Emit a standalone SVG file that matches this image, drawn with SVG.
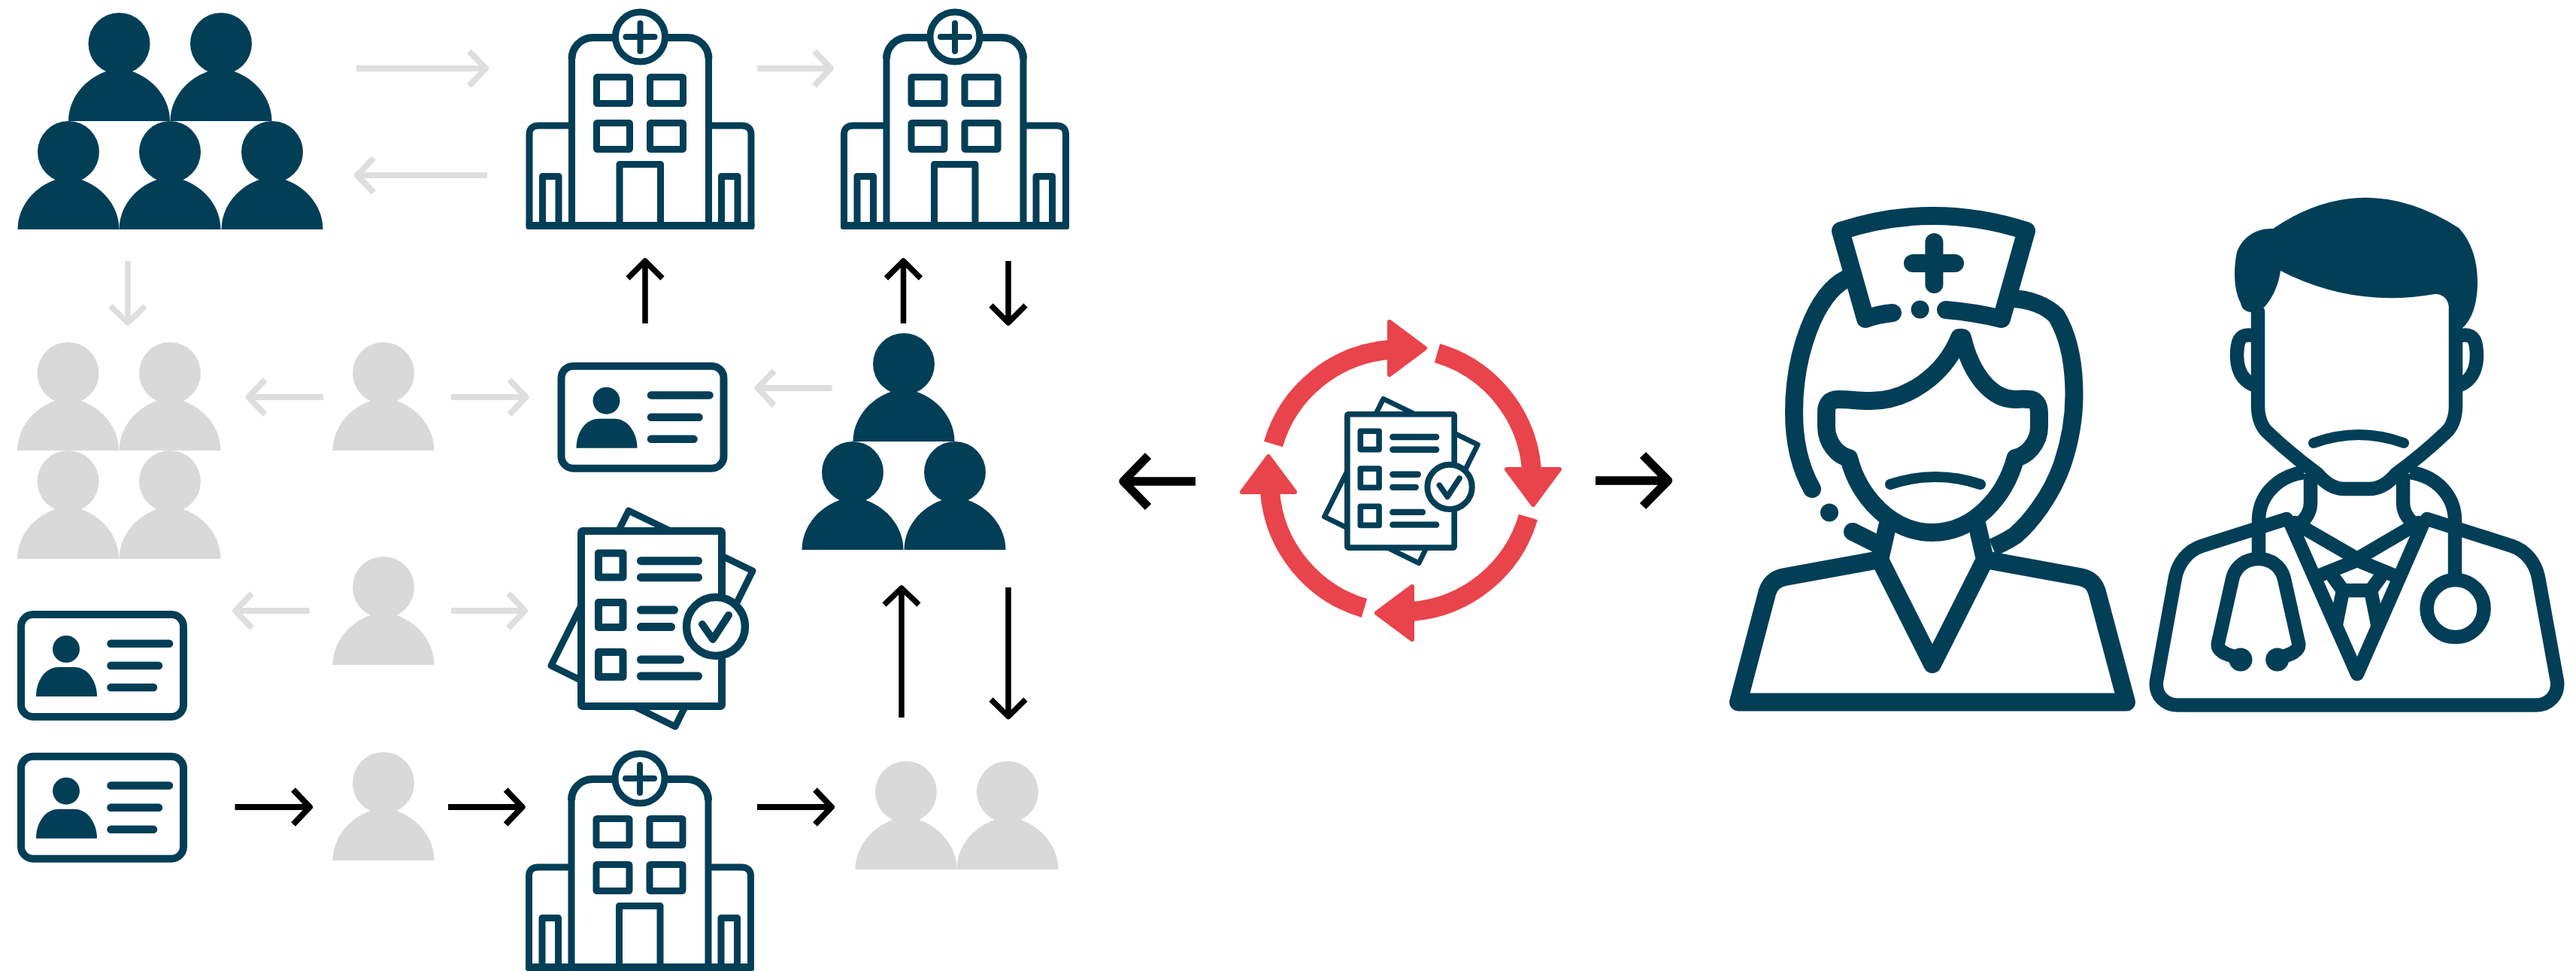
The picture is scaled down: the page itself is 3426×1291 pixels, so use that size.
<svg xmlns="http://www.w3.org/2000/svg" width="3426" height="1291" viewBox="0 0 3426 1291">
<style>
.d{fill:#033e57}
.g{fill:#d9d9d9}
.s{fill:none;stroke:#033e57;stroke-linecap:round;stroke-linejoin:round}
.w{fill:#fff;stroke:#033e57;stroke-linejoin:round}
.ag{fill:none;stroke:#dedede;stroke-width:8;stroke-linejoin:round}
.ak{fill:none;stroke:#000;stroke-width:8;stroke-linejoin:round}
.v{stroke-width:7.5}
.b{stroke-width:11.5}
.r{fill:none;stroke:#e9434b}
.rh{fill:#e9434b;stroke:#e9434b;stroke-width:6;stroke-linejoin:round}
</style>
<defs>
<g id="person"><circle cx="0" cy="-103" r="41"/><path d="M-67.5,0C-67.5,-30 -46,-56 -17.5,-66H17.5C46,-56 67.5,-30 67.5,0Z"/></g>
<g id="hospital">
<g class="s" stroke-width="9">
<path d="M-91,64V289M91,64V289" stroke-linecap="butt"/>
<path d="M-33,39H-63A28,28 0 0 0 -91,67M33,39H63A28,28 0 0 1 91,67" stroke-width="10" stroke-linecap="butt"/>
<path d="M-91,156H-135Q-147.5,156 -147.5,168V289M91,156H135Q147.5,156 147.5,168V289" stroke-linecap="butt"/>
<rect x="-58" y="91.5" width="44" height="35" rx="1"/><rect x="13" y="91.5" width="44" height="35" rx="1"/>
<rect x="-58" y="152.5" width="44" height="35" rx="1"/><rect x="13" y="152.5" width="44" height="35" rx="1"/>
<path d="M-27.5,289V207.5H27V289M-130,289V223.5H-108.5V289M108,289V223.5H129.5V289" stroke-linecap="butt"/>
</g>
<circle class="w" cx="0" cy="38" r="33" stroke-width="9"/>
<path class="s" stroke-width="8" d="M0,20V57M-19,38H19"/>
<rect class="d" x="-152" y="284" width="304" height="10" rx="3"/>
</g>
<g id="doc">
<path class="w" stroke-width="9" d="M836,679L1001,759L898,966L733,885Z"/>
<rect class="w" x="773" y="706" width="187" height="233" rx="2" stroke-width="10"/>
<g class="s" stroke-width="10">
<rect x="796" y="735.5" width="32.5" height="32"/><rect x="796" y="801" width="32.5" height="33"/><rect x="796" y="867" width="32.5" height="33"/>
</g>
<path class="s" stroke-width="11" d="M852.5,745.7H928.5M852.5,767.7H928.5M852.5,811H896.5M852.5,833.5H892.5M852.5,877H904.5M852.5,899H928.5"/>
<circle class="w" cx="952" cy="833" r="39" stroke-width="10.5"/>
<path class="s" stroke-width="10" d="M934,830L948,850L969,818"/>
</g>
<g id="card">
<rect class="s" x="28" y="817" width="216" height="136" rx="16" stroke-width="10"/>
<circle class="d" cx="88" cy="863" r="18"/>
<path class="d" d="M48,926C48,905 60,887 78,887H99C116,887 129,905 129,926Z"/>
<path class="s" stroke-width="10.5" d="M147.5,855.7H225M147.5,885H211M147.5,914H204"/>
</g>
<g id="rarrow">
<path class="r" stroke-width="26" d="M1693.5,590.5A175.5,175.5 0 0 1 1848,465"/>
<path class="rh" d="M1848,428L1895,463L1848,498Z"/>
</g>
</defs>
<rect width="3426" height="1291" fill="#fff"/>

<g id="crowd-top" class="d">
<use href="#person" x="158.5" y="161"/><use href="#person" x="294" y="161"/>
<use href="#person" x="91" y="305"/><use href="#person" x="226" y="305"/><use href="#person" x="362" y="305"/>
</g>
<g id="crowd-grey" class="g">
<use href="#person" x="90.5" y="599"/><use href="#person" x="226" y="599"/>
<use href="#person" x="90.5" y="743"/><use href="#person" x="226" y="743"/>
</g>
<g id="person-grey-1" class="g"><use href="#person" x="510" y="599"/></g>
<g id="person-grey-2" class="g"><use href="#person" x="510" y="884"/></g>
<g id="person-grey-3" class="g"><use href="#person" x="510" y="1144"/></g>
<g id="pair-grey" class="g"><use href="#person" x="1205" y="1156"/><use href="#person" x="1340" y="1156"/></g>
<g id="trio-dark" class="d"><use href="#person" x="1202" y="587"/><use href="#person" x="1134" y="731"/><use href="#person" x="1270" y="731"/></g>

<g id="hospital-1"><use href="#hospital" x="851.5" y="11"/></g>
<g id="hospital-2"><use href="#hospital" x="1270" y="11"/></g>
<g id="hospital-3"><use href="#hospital" x="851" y="997"/></g>

<g id="card-1"><use href="#card" x="718.5" y="-330.3"/></g>
<g id="card-2"><use href="#card"/></g>
<g id="card-3"><use href="#card" y="188.7"/></g>

<g id="document-1"><use href="#doc"/></g>
<g id="document-2"><use href="#doc" transform="translate(1863,639.3) scale(.761) translate(-866.5,-822.3)"/></g>

<g id="cycle">
<use href="#rarrow"/>
<use href="#rarrow" transform="rotate(90 1863 639)"/>
<use href="#rarrow" transform="rotate(180 1863 639)"/>
<use href="#rarrow" transform="rotate(270 1863 639)"/>
</g>

<g id="nurse">
<g class="s" stroke-width="24">
<path d="M2517,416Q2497,418 2481,424L2448,307Q2571,267 2695,307L2662,424Q2625,415 2588,412"/>
<path d="M2572.4,322V378M2544,350H2600"/>
<path d="M2455,371C2415,391 2386,470 2386,548C2386,590 2394,622 2410,650"/>
<path d="M2464,707L2500,725"/>
<path d="M2672,397C2700,397 2722,407 2735,420C2750,445 2758.5,480 2758.5,525C2758.5,560 2752,590 2743,617C2728,660 2700,695 2680,712Q2668,720 2650,728" stroke-linecap="butt"/>
<path d="M2606,449C2585,500 2535,534 2486,533C2470,533 2460,531 2445,531Q2429,531 2429,548V567C2429,590 2445,606 2459,609C2472,660 2515,708 2570,708C2625,708 2667,660 2680.5,609C2695,606 2712,590 2712,567V550Q2712,531 2698,531C2690,530 2685,531 2680,531C2650,531 2622,500 2610,449Z"/>
<path d="M2510,700L2500,744L2570,883L2640,744L2630,700"/>
<path d="M2500,744L2374,767Q2356,770 2350.5,787L2312,933.5H2828L2789,787Q2784,770 2766,767L2640,744"/>
</g>
<circle class="d" cx="2553.6" cy="411.6" r="12"/>
<circle class="d" cx="2433" cy="681.6" r="12"/>
<path class="s" stroke-width="14" d="M2514,644Q2574,624 2634,644"/>
</g>

<g id="doctor">
<g class="s" stroke-width="18.5">
<path d="M3003,414V540C3003,555 3008,568 3016,575C3035,593 3060,614 3082,630C3092,642 3103,650 3118,650H3151C3166,650 3177,642 3187,630C3209,614 3234,593 3253,575C3261,568 3266,555 3266,540V410"/>
<path d="M3000,447C2985,443 2978,447 2976,460C2973,480 2976,505 3000,513M3269,447C3284,443 3291,447 3293,460C3296,480 3293,505 3269,513" stroke-linecap="butt"/>
<path d="M3073,630V668Q3073,684 3060,695M3196,630V668Q3196,684 3209,695" stroke-linecap="butt"/>
<path d="M3064,628C3028,633 3004,660 3004,692V743M3205,628C3241,633 3265,660 3265,692V770" stroke-linecap="butt"/>
<path d="M3041,690L2928,726C2910,732 2897,748 2893,768L2868,906C2866,925 2880,937.5 2896,937.5H3373C3389,937.5 3403,925 3401,906L3376,768C3372,748 3359,732 3341,726L3228,690"/>
<path d="M3046,695L3135,896L3223,695"/>
<path d="M3052,695L3135,743L3217,695"/>
<path d="M3085,765L3135,745L3184,765"/>
<path d="M3103,767L3116,785H3153L3166,767M3116,785L3107,830M3153,785L3162,830"/>
<path d="M2978,875C2960,870 2948,866 2950,855L2969,770C2973,752 2988,743 3003.7,743C3019,743 3034,752 3038,770L3057,855C3059,866 3047,870 3030,875"/>
</g>
<path class="d" d="M3023,304Q3144,222 3270,303C3288,322 3296,350 3295,380C3294,405 3288,425 3274,437H3257V410C3257,398 3248,390 3238,391Q3130,410 3033,360Q3029,388 3012,408L2993,415C2985,414 2981,409 2980,403C2971,385 2970,360 2975,335C2982,316 3000,303 3023,304Z"/>
<circle class="d" cx="2980" cy="877" r="15.5"/><circle class="d" cx="3028.7" cy="877" r="15.5"/>
<circle class="s" cx="3265.6" cy="809" r="38" stroke-width="18.5"/>
<path class="s" stroke-width="14" d="M3077,589Q3137,567 3197,589"/>
</g>

<g id="connectors">
<g class="ag">
<path d="M474 91H646M624 68L646 91L624 114"/>
<path d="M648 233H475M497 210L475 233L497 256"/>
<path class="v" d="M170 347V429M147 407L170 429L193 407"/>
<path d="M1007 91H1105M1083 68L1105 91L1083 114"/>
<path d="M430 528H330.5M352.5 505L330.5 528L352.5 551"/>
<path d="M600 528H699.5M677.5 505L699.5 528L677.5 551"/>
<path d="M1106.5 516H1007.5M1029.5 493L1007.5 516L1029.5 539"/>
<path d="M411.6 812H313M335 789L313 812L335 835"/>
<path d="M600 812H698M676 789L698 812L676 835"/>
</g>
<g class="ak">
<path class="v" d="M858 430V347M835 370L858 347L881 370"/>
<path class="v" d="M1201.5 430V347M1178.5 370L1201.5 347L1224.5 370"/>
<path class="v" d="M1341 347V429M1318 406L1341 429L1364 406"/>
<path class="v" d="M1199 954V782M1176 804L1199 782L1222 804"/>
<path class="v" d="M1341 781V952.6M1318 930L1341 952.6L1364 930"/>
<path d="M312.5 1073H412M390 1050L412 1073L390 1096"/>
<path d="M596 1073H694.6M672.6 1050L694.6 1073L672.6 1096"/>
<path d="M1007 1073H1106M1084 1050L1106 1073L1084 1096"/>
<path class="b" d="M1590 640H1494M1527 606L1494 640L1527 674"/>
<path class="b" d="M2122 639H2218.5M2185 605L2218.5 639L2185 673"/>
</g>
</g>
</svg>
